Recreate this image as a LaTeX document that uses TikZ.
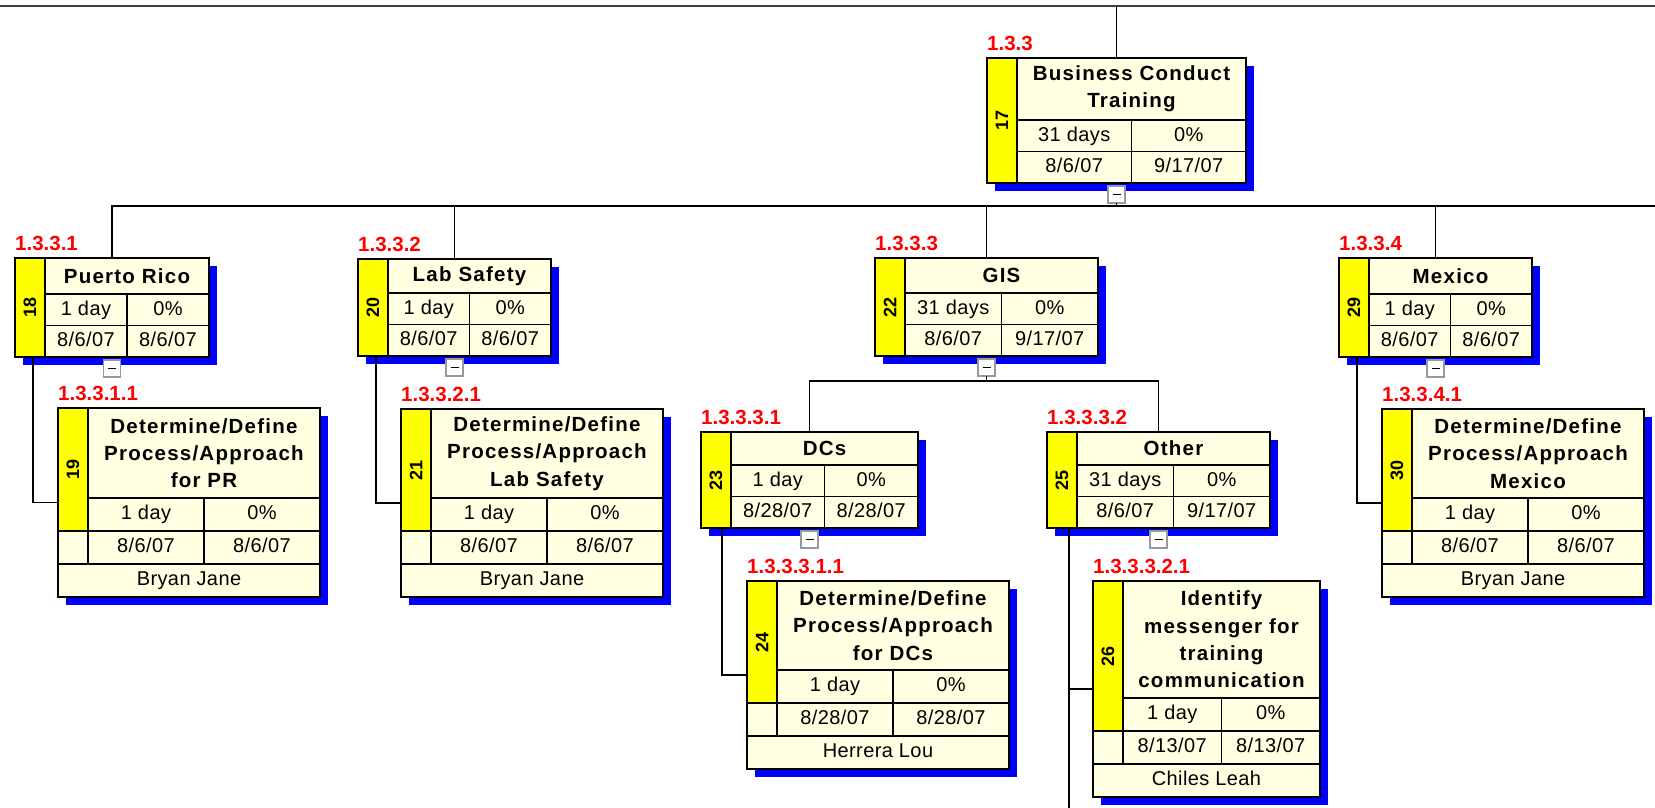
\documentclass[tikz,border=0pt]{standalone}
\usepackage{fontspec}
\setmainfont{Liberation Sans}
\newfontfamily\ttlfont[LetterSpace=6]{Liberation Sans}
\newfontfamily\rowfont[LetterSpace=2]{Liberation Sans}
\definecolor{cream}{HTML}{FFFFE1}
\definecolor{stripyellow}{HTML}{FFFF00}
\definecolor{shadowblue}{HTML}{0000FF}
\definecolor{wbsred}{HTML}{FF0000}
\definecolor{topgray}{HTML}{404040}
\tikzset{
  boxframe/.style={draw=black, line width=1.6pt, fill=cream, inner sep=0pt, outer sep=0pt},
  cell/.style={draw=black, line width=1.6pt},
  titlef/.style={font=\ttlfont\bfseries\fontsize{20.5}{27.3}\selectfont, align=center, inner sep=0pt},
  rowf/.style={font=\rowfont\fontsize{20}{24}\selectfont, inner sep=0pt, text height=14.5pt, text depth=4pt},
  labelf/.style={font=\bfseries\fontsize{20.5}{24}\selectfont, text=wbsred, inner sep=0pt},
  idf/.style={font=\bfseries\fontsize{18}{20}\selectfont, inner sep=0pt},
  collapse/.style={draw=gray!80, fill=white, line width=1.2pt, minimum size=17pt, inner sep=0pt, outer sep=0pt},
  conn/.style={draw=black, line width=1.6pt},
  topline/.style={draw=topgray, line width=2.8pt},
}
% summary box: name, L, T, R, B, id, title, label ; then rows {dur}{pct}{start}{finish}
\newcommand\boxA[8]{%
  \pgfmathsetmacro\bS{#2+30}%
  \pgfmathsetmacro\bC{(#2+30+#4)/2}%
  \pgfmathsetmacro\bTi{#5-63}%
  \pgfmathsetmacro\bRo{#5-31.5}%
  \pgfmathsetmacro\bR{#4}%
  \pgfmathsetmacro\bB{#5}%
  \fill[shadowblue] (#2+8,#3+8) rectangle (#4+8,#5+8);
  \node[boxframe, minimum width={#4-#2}, minimum height={#5-#3}] (#1) at ({(#2+#4)/2},{(#3+#5)/2}) {};
  \filldraw[cell, fill=stripyellow] (#2,#3) rectangle (\bS,#5);
  \draw[cell] (\bS,\bTi) -- (#4,\bTi) (\bS,\bRo) -- (#4,\bRo) (\bC,\bTi) -- (\bC,#5);
  \node[collapse] (c#1) at ({(#2+#4)/2},#5+11.5) {};
  \draw[line width=1.5pt] ([xshift=-4pt]c#1.center) -- ([xshift=4pt]c#1.center);
  \node[titlef] at ({(\bS+#4)/2},{(#3+\bTi)/2}) {#7};
  \node[idf, rotate=90] at ({(#2+\bS)/2},{(#3+#5)/2}) {#6};
  \node[labelf, anchor=west] at (#2,#3-15) {#8};
  \boxArows}
\newcommand\boxArows[4]{%
  \node[rowf] at ({(\bS+\bC)/2},{(\bTi+\bRo)/2}) {#1};
  \node[rowf] at ({(\bC+\bR)/2},{(\bTi+\bRo)/2}) {#2};
  \node[rowf] at ({(\bS+\bC)/2},{(\bRo+\bB)/2}) {#3};
  \node[rowf] at ({(\bC+\bR)/2},{(\bRo+\bB)/2}) {#4};
}
% task box: name, L, T, R, B, id, title, label ; then rows {dur}{pct}{start}{finish}{resource}
\newcommand\boxB[8]{%
  \pgfmathsetmacro\bS{#2+30}%
  \pgfmathsetmacro\bC{(#2+30+#4)/2}%
  \pgfmathsetmacro\bTi{#5-99}%
  \pgfmathsetmacro\bRa{#5-66}%
  \pgfmathsetmacro\bRb{#5-33}%
  \pgfmathsetmacro\bL{#2}%
  \pgfmathsetmacro\bR{#4}%
  \pgfmathsetmacro\bB{#5}%
  \fill[shadowblue] (#2+8,#3+8) rectangle (#4+8,#5+8);
  \node[boxframe, minimum width={#4-#2}, minimum height={#5-#3}] (#1) at ({(#2+#4)/2},{(#3+#5)/2}) {};
  \filldraw[cell, fill=stripyellow] (#2,#3) rectangle (\bS,\bRa);
  \draw[cell] (\bS,\bTi) -- (#4,\bTi) (#2,\bRa) -- (#4,\bRa) (#2,\bRb) -- (#4,\bRb)
              (\bS,\bRa) -- (\bS,\bRb) (\bC,\bTi) -- (\bC,\bRb);
  \node[titlef] at ({(\bS+#4)/2},{(#3+\bTi)/2}) {#7};
  \node[idf, rotate=90] at ({(#2+\bS)/2},{(#3+\bRa)/2}) {#6};
  \node[labelf, anchor=west] at (#2,#3-15) {#8};
  \boxBrows}
\newcommand\boxBrows[5]{%
  \node[rowf] at ({(\bS+\bC)/2},{(\bTi+\bRa)/2}) {#1};
  \node[rowf] at ({(\bC+\bR)/2},{(\bTi+\bRa)/2}) {#2};
  \node[rowf] at ({(\bS+\bC)/2},{(\bRa+\bRb)/2}) {#3};
  \node[rowf] at ({(\bC+\bR)/2},{(\bRa+\bRb)/2}) {#4};
  \node[rowf] at ({(\bL+\bR)/2},{(\bRb+\bB)/2}) {#5};
}
\begin{document}
\begin{tikzpicture}[x=1pt, y=-1pt]
\useasboundingbox (0,0) rectangle (1655,808);
\fill[white] (0,0) rectangle (1655,808);

\boxA{b17}{987}{58}{1246}{183}{17}{Business Conduct\\Training}{1.3.3}{31 days}{0\%}{8/6/07}{9/17/07}
\boxA{b18}{15}{258}{209}{357}{18}{Puerto Rico}{1.3.3.1}{1 day}{0\%}{8/6/07}{8/6/07}
\boxA{b20}{358}{259}{551}{356}{20}{Lab Safety}{1.3.3.2}{1 day}{0\%}{8/6/07}{8/6/07}
\boxA{b22}{875}{258}{1098}{356}{22}{GIS}{1.3.3.3}{31 days}{0\%}{8/6/07}{9/17/07}
\boxA{b29}{1339}{258}{1532}{357}{29}{Mexico}{1.3.3.4}{1 day}{0\%}{8/6/07}{8/6/07}
\boxA{b23}{701}{432}{918}{528}{23}{DCs}{1.3.3.3.1}{1 day}{0\%}{8/28/07}{8/28/07}
\boxA{b25}{1047}{432}{1270}{528}{25}{Other}{1.3.3.3.2}{31 days}{0\%}{8/6/07}{9/17/07}

\boxB{b19}{58}{408}{320}{597}{19}{Determine/Define\\Process/Approach\\for PR}{1.3.3.1.1}{1 day}{0\%}{8/6/07}{8/6/07}{Bryan Jane}
\boxB{b21}{401}{409}{663}{597}{21}{Determine/Define\\Process/Approach\\Lab Safety}{1.3.3.2.1}{1 day}{0\%}{8/6/07}{8/6/07}{Bryan Jane}
\boxB{b24}{747}{581}{1009}{769}{24}{Determine/Define\\Process/Approach\\for DCs}{1.3.3.3.1.1}{1 day}{0\%}{8/28/07}{8/28/07}{Herrera Lou}
\boxB{b26}{1093}{581}{1320}{797}{26}{Identify\\messenger for\\training\\communication}{1.3.3.3.2.1}{1 day}{0\%}{8/13/07}{8/13/07}{Chiles Leah}
\boxB{b30}{1382}{409}{1644}{597}{30}{Determine/Define\\Process/Approach\\Mexico}{1.3.3.4.1}{1 day}{0\%}{8/6/07}{8/6/07}{Bryan Jane}

% connectors
\coordinate (topL) at (0,6);
\coordinate (topR) at (1655,6);
\draw[topline] (topL) -- (topR);
\draw[conn] (b17.north) -- (b17.north |- topL);
\coordinate (l1R) at (1655,206);
\draw[conn] (b18.north) |- (l1R);
\draw[conn] (cb17.south) -- (cb17.south |- l1R);
\draw[conn] (b20.north) -- (b20.north |- l1R);
\draw[conn] (b22.north) -- (b22.north |- l1R);
\draw[conn] (b29.north) -- (b29.north |- l1R);
\coordinate (l2) at (0,381);
\draw[conn] (b23.north) -- (b23.north |- l2) -- (b25.north |- l2) -- (b25.north);
\draw[conn] (cb22.south) -- (cb22.south |- l2);
\coordinate (botE) at (0,808);
\draw[conn] ([xshift=18pt]b18.south west) |- (b19.west);
\draw[conn] ([xshift=18pt]b20.south west) |- (b21.west);
\draw[conn] ([xshift=21pt]b23.south west) |- (b24.west);
\draw[conn] ([xshift=22pt]b25.south west) |- (b26.west);
\draw[conn] ([xshift=22pt]b25.south west) -- ([xshift=22pt]b25.south west |- botE);
\draw[conn] ([xshift=18pt]b29.south west) |- (b30.west);
\end{tikzpicture}
\end{document}
